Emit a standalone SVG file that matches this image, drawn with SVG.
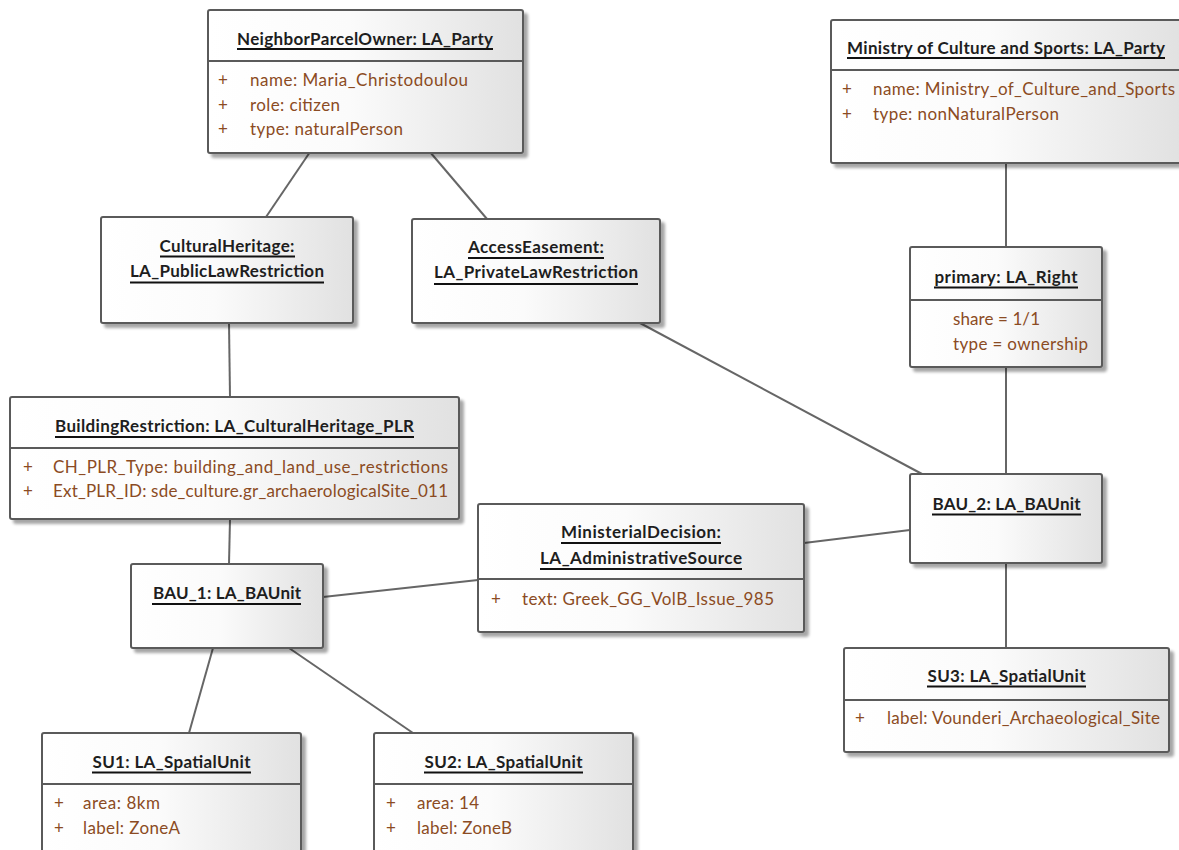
<svg xmlns="http://www.w3.org/2000/svg" width="1179" height="850" viewBox="0 0 1179 850">
<defs>
<linearGradient id="g" x1="0" y1="0" x2="1" y2="0">
<stop offset="0" stop-color="#ffffff"/>
<stop offset="0.45" stop-color="#fbfbfb"/>
<stop offset="1" stop-color="#e1e1e1"/>
</linearGradient>
<filter id="sh" x="-5%" y="-5%" width="115%" height="120%">
<feGaussianBlur in="SourceAlpha" stdDeviation="1.8"/>
<feOffset dx="4" dy="4"/>
<feComponentTransfer><feFuncA type="linear" slope="0.35"/></feComponentTransfer>
<feMerge><feMergeNode/><feMergeNode in="SourceGraphic"/></feMerge>
</filter>
</defs>
<style>
.box{fill:url(#g);stroke:#5a5a5a;stroke-width:2;filter:url(#sh)}
.div{stroke:#5a5a5a;stroke-width:2}
.t{font-family:Lato,"Liberation Sans",sans-serif;font-size:17px;font-weight:bold;fill:#1e1e1e;text-anchor:middle}
.u{stroke:#111;stroke-width:2}
.a{font-family:Lato,"Liberation Sans",sans-serif;font-size:17px;fill:#8b4b23}
.c{stroke:#666;stroke-width:2;fill:none}
</style>
<rect width="1179" height="850" fill="#ffffff"/>
<g id="connectors">
<line class="c" x1="310" y1="152" x2="266" y2="217"/>
<line class="c" x1="430" y1="152" x2="487" y2="219"/>
<line class="c" x1="229" y1="323" x2="230" y2="397"/>
<line class="c" x1="230" y1="519" x2="229" y2="564"/>
<line class="c" x1="323" y1="597" x2="478" y2="580"/>
<line class="c" x1="804" y1="543" x2="910" y2="530"/>
<line class="c" x1="640" y1="323" x2="922" y2="474"/>
<line class="c" x1="1006" y1="163" x2="1006" y2="247"/>
<line class="c" x1="1006" y1="367" x2="1006" y2="474"/>
<line class="c" x1="1006" y1="563" x2="1006" y2="648"/>
<line class="c" x1="213" y1="648" x2="189" y2="733"/>
<line class="c" x1="289" y1="648" x2="413" y2="733"/>
</g>
<g id="neighborParcelOwner">
<rect class="box" x="208" y="10" width="315" height="143" rx="2"/>
<line class="div" x1="208" y1="61" x2="523" y2="61"/>
<text class="t" x="365" y="45" textLength="256">NeighborParcelOwner: LA_Party</text>
<line class="u" x1="237" y1="49" x2="493" y2="49"/>
<text class="a" x="218" y="86">+</text><text class="a" x="250" y="86" textLength="218">name: Maria_Christodoulou</text>
<text class="a" x="218" y="111">+</text><text class="a" x="250" y="111" textLength="90">role: citizen</text>
<text class="a" x="218" y="135">+</text><text class="a" x="250" y="135" textLength="153">type: naturalPerson</text>
</g>
<g id="ministry">
<rect class="box" x="831" y="20" width="352" height="143" rx="2"/>
<line class="div" x1="831" y1="70" x2="1183" y2="70"/>
<text class="t" x="1006" y="54" textLength="318">Ministry of Culture and Sports: LA_Party</text>
<line class="u" x1="847" y1="58" x2="1165" y2="58"/>
<text class="a" x="842" y="95">+</text><text class="a" x="873" y="95" textLength="302">name: Ministry_of_Culture_and_Sports</text>
<text class="a" x="842" y="120">+</text><text class="a" x="873" y="120" textLength="186">type: nonNaturalPerson</text>
</g>
<g id="culturalHeritage">
<rect class="box" x="101" y="217" width="252" height="106" rx="2"/>
<text class="t" x="227" y="252" textLength="135">CulturalHeritage:</text>
<line class="u" x1="160" y1="256.5" x2="295" y2="256.5"/>
<text class="t" x="227" y="277" textLength="194">LA_PublicLawRestriction</text>
<line class="u" x1="130" y1="282.5" x2="324" y2="282.5"/>
</g>
<g id="accessEasement">
<rect class="box" x="412" y="219" width="248" height="104" rx="2"/>
<text class="t" x="536" y="253" textLength="136">AccessEasement:</text>
<line class="u" x1="468" y1="258" x2="604" y2="258"/>
<text class="t" x="536" y="278" textLength="204">LA_PrivateLawRestriction</text>
<line class="u" x1="434" y1="284" x2="638" y2="284"/>
</g>
<g id="primaryRight">
<rect class="box" x="910" y="247" width="192" height="120" rx="2"/>
<line class="div" x1="910" y1="300" x2="1102" y2="300"/>
<text class="t" x="1006" y="283" textLength="143">primary: LA_Right</text>
<line class="u" x1="934" y1="287.5" x2="1078" y2="287.5"/>
<text class="a" x="953" y="325" textLength="87">share = 1/1</text>
<text class="a" x="953" y="350" textLength="135">type = ownership</text>
</g>
<g id="buildingRestriction">
<rect class="box" x="10" y="397" width="449" height="122" rx="2"/>
<line class="div" x1="10" y1="448" x2="459" y2="448"/>
<text class="t" x="234.5" y="432" textLength="359">BuildingRestriction: LA_CulturalHeritage_PLR</text>
<line class="u" x1="55" y1="437" x2="414" y2="437"/>
<text class="a" x="23" y="473">+</text><text class="a" x="53" y="473" textLength="395">CH_PLR_Type: building_and_land_use_restrictions</text>
<text class="a" x="23" y="497">+</text><text class="a" x="53" y="497" textLength="395">Ext_PLR_ID: sde_culture.gr_archaerologicalSite_011</text>
</g>
<g id="bau2">
<rect class="box" x="910" y="474" width="192" height="89" rx="2"/>
<text class="t" x="1006.5" y="510" textLength="148">BAU_2: LA_BAUnit</text>
<line class="u" x1="932" y1="514.5" x2="1081" y2="514.5"/>
</g>
<g id="ministerialDecision">
<rect class="box" x="478" y="504" width="326" height="128" rx="2"/>
<line class="div" x1="478" y1="579" x2="804" y2="579"/>
<text class="t" x="641" y="538" textLength="160">MinisterialDecision:</text>
<line class="u" x1="561" y1="543" x2="721" y2="543"/>
<text class="t" x="641" y="564" textLength="202">LA_AdministrativeSource</text>
<line class="u" x1="540" y1="569" x2="742" y2="569"/>
<text class="a" x="491" y="605">+</text><text class="a" x="522" y="605" textLength="252">text: Greek_GG_VolB_Issue_985</text>
</g>
<g id="bau1">
<rect class="box" x="131" y="564" width="192" height="84" rx="2"/>
<text class="t" x="227" y="599" textLength="148">BAU_1: LA_BAUnit</text>
<line class="u" x1="152" y1="604" x2="301" y2="604"/>
</g>
<g id="su3">
<rect class="box" x="844" y="648" width="325" height="104" rx="2"/>
<line class="div" x1="844" y1="700" x2="1169" y2="700"/>
<text class="t" x="1006.5" y="682" textLength="158">SU3: LA_SpatialUnit</text>
<line class="u" x1="927" y1="686.5" x2="1086" y2="686.5"/>
<text class="a" x="855" y="724">+</text><text class="a" x="887" y="724" textLength="273">label: Vounderi_Archaeological_Site</text>
</g>
<g id="su1">
<rect class="box" x="42" y="733" width="259" height="130" rx="2"/>
<line class="div" x1="42" y1="784" x2="301" y2="784"/>
<text class="t" x="171.5" y="768" textLength="158">SU1: LA_SpatialUnit</text>
<line class="u" x1="92" y1="772.5" x2="251" y2="772.5"/>
<text class="a" x="54" y="809">+</text><text class="a" x="83" y="809" textLength="77">area: 8km</text>
<text class="a" x="54" y="834">+</text><text class="a" x="83" y="834" textLength="97">label: ZoneA</text>
</g>
<g id="su2">
<rect class="box" x="374" y="733" width="259" height="130" rx="2"/>
<line class="div" x1="374" y1="784" x2="633" y2="784"/>
<text class="t" x="503.5" y="768" textLength="158">SU2: LA_SpatialUnit</text>
<line class="u" x1="424" y1="772.5" x2="583" y2="772.5"/>
<text class="a" x="386" y="809">+</text><text class="a" x="417" y="809" textLength="62">area: 14</text>
<text class="a" x="386" y="834">+</text><text class="a" x="417" y="834" textLength="95">label: ZoneB</text>
</g>
</svg>
